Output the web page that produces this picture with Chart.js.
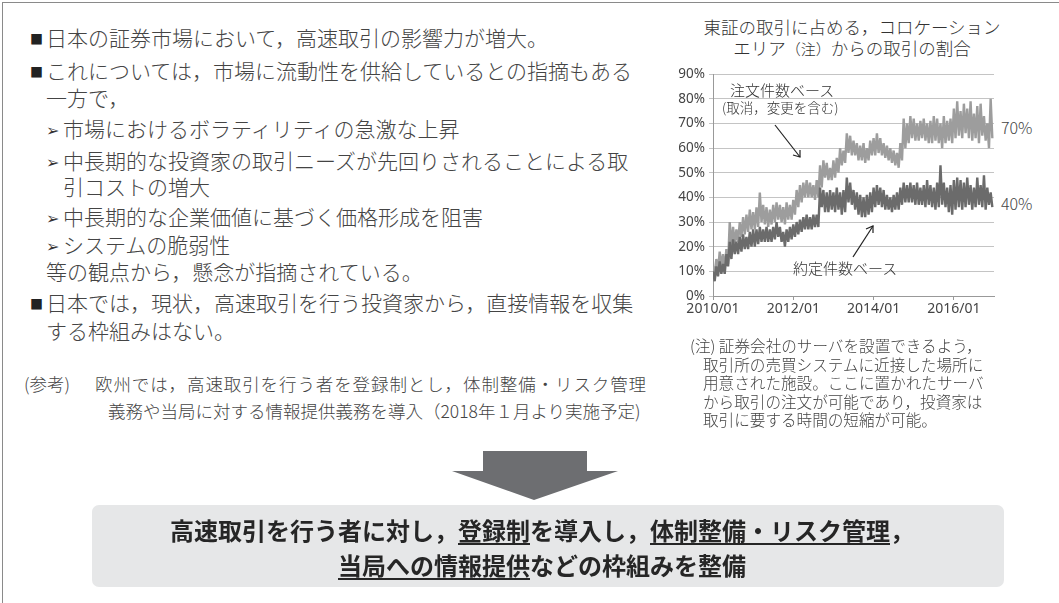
<!DOCTYPE html>
<html>
<head>
<meta charset="utf-8">
<script src="https://cdn.jsdelivr.net/npm/chart.js@4"></script>
<style>
  html, body { margin: 0; padding: 0; background: #fff; }
  body { width: 1059px; height: 603px; position: relative; overflow: hidden;
         font-family: "Noto Sans CJK JP", "Noto Sans", sans-serif; color: #444; font-weight: 300; }
  .frame { position: absolute; left: 2px; top: 2px; width: 1080px; height: 640px;
           border-left: 1.5px solid #8a8a8a; border-top: 1.5px solid #8a8a8a; }
  .t { position: absolute; white-space: nowrap; font-size: 21px; line-height: 24px; }
  .s { font-size: 17.5px; line-height: 20px; }
  .note { font-size: 15.6px; line-height: 18px; }
  .sq { display: inline-block; width: 16px; font-size: 13px; color: #222; vertical-align: 2px; }
  .ar { display: inline-block; width: 17px; font-size: 16px; font-family: "DejaVu Sans", sans-serif; vertical-align: 1px; color: #333; }
  .title { position: absolute; left: 702px; width: 300px; text-align: center; font-size: 17.5px; line-height: 20px; color: #333; white-space: nowrap; }
  .ann { position: absolute; white-space: nowrap; color: #333; line-height: 16px; }
  #wrap { position: absolute; left: 660px; top: 62px; width: 340px; height: 260px; }
  .arrow { position: absolute; left: 450px; top: 450px; }
  .box { position: absolute; left: 92px; top: 505px; width: 912px; height: 82px; background: #e6e7e8; border-radius: 7px; }
  .btxt { position: absolute; left: 86px; width: 912px; text-align: center; font-size: 24px; line-height: 28px; font-weight: bold; color: #262626; white-space: nowrap; }
  u { text-underline-offset: 3px; text-decoration-thickness: 1.5px; }
</style>
</head>
<body>
<div class="frame"></div>

<div class="t" style="left:30px;top:25px"><span class="sq">■</span>日本の証券市場において，高速取引の影響力が増大。</div>
<div class="t" style="left:30px;top:58px"><span class="sq">■</span>これについては，市場に流動性を供給しているとの指摘もある</div>
<div class="t" style="left:46px;top:85px">一方で，</div>
<div class="t" style="left:46px;top:116px"><span class="ar">➢</span>市場におけるボラティリティの急激な上昇</div>
<div class="t" style="left:46px;top:148px"><span class="ar">➢</span>中長期的な投資家の取引ニーズが先回りされることによる取</div>
<div class="t" style="left:63px;top:174px">引コストの増大</div>
<div class="t" style="left:46px;top:204px"><span class="ar">➢</span>中長期的な企業価値に基づく価格形成を阻害</div>
<div class="t" style="left:46px;top:232px"><span class="ar">➢</span>システムの脆弱性</div>
<div class="t" style="left:46px;top:259px">等の観点から，懸念が指摘されている。</div>
<div class="t" style="left:30px;top:290px"><span class="sq">■</span>日本では，現状，高速取引を行う投資家から，直接情報を収集</div>
<div class="t" style="left:46px;top:318px">する枠組みはない。</div>
<div class="t s" style="left:24px;top:374px">(参考)</div>
<div class="t s" style="left:95px;top:374px;letter-spacing:0.9px">欧州では，高速取引を行う者を登録制とし，体制整備・リスク管理</div>
<div class="t s" style="left:108px;top:401px">義務や当局に対する情報提供義務を導入（2018年１月より実施予定)</div>

<div class="title" style="top:17px">東証の取引に占める，コロケーション</div>
<div class="title" style="top:38px">エリア<span style="font-size:15px">（注）</span>からの取引の割合</div>

<div id="wrap"><canvas id="c"></canvas></div>

<div class="ann" style="left:730px;top:82px;font-size:15px">注文件数ベース</div>
<div class="ann" style="left:722px;top:99px;font-size:13.5px">(取消，変更を含む)</div>
<div class="ann" style="left:793px;top:260px;font-size:15px">約定件数ベース</div>
<div class="ann" style="left:1001px;top:119px;font-size:16px;color:#444">70%</div>
<div class="ann" style="left:1001px;top:195px;font-size:16px;color:#444">40%</div>
<svg style="position:absolute;left:0;top:0" width="1059" height="603">
  <g stroke="#222" stroke-width="1.2" fill="none">
    <line x1="775" y1="125" x2="800" y2="157"/>
    <polyline points="793,155 800,157 800,150"/>
    <line x1="853" y1="257" x2="873" y2="226"/>
    <polyline points="866,229 873,226 873,233"/>
  </g>
</svg>

<div class="t note" style="left:690px;top:336px">(注) 証券会社のサーバを設置できるよう，</div>
<div class="t note" style="left:703px;top:354.5px">取引所の売買システムに近接した場所に</div>
<div class="t note" style="left:703px;top:373px">用意された施設。ここに置かれたサーバ</div>
<div class="t note" style="left:703px;top:391.5px">から取引の注文が可能であり，投資家は</div>
<div class="t note" style="left:703px;top:410px">取引に要する時間の短縮が可能。</div>

<svg class="arrow" width="170" height="52">
  <polygon points="33,1 137,1 137,21 168,21 84,50 2,21 33,21" fill="#6d6e71"/>
</svg>
<div class="box"></div>
<div class="btxt" style="top:516px">高速取引を行う者に対し，<u>登録制</u>を導入し，<u>体制整備・リスク管理</u>，</div>
<div class="btxt" style="top:551px"><u>当局への情報提供</u>などの枠組みを整備</div>

<script>
// months since 2010/01, one high/low pair per month (2010/01 .. 2016/12)
const tickMonths = [0, 24, 48, 72];
const tickLabels = ['2010/01', '2012/01', '2014/01', '2016/01'];
const yTicks = [0, 10, 20, 30, 40, 50, 60, 70, 80, 90];

// 注文件数ベース (light)
const orderHigh = [12,15,18,17,19,30,28,27,30,32,33,35,34,36,42,37,36,35,37,38,37,36,38,37,
  39,43,45,46,47,46,45,47,53,55,54,52,55,56,60,59,66,65,63,62,61,62,60,63,
  64,66,64,62,61,60,59,58,62,72,70,73,72,70,71,72,70,71,73,72,70,73,71,72,
  76,79,75,78,76,79,74,77,78,73,70,80];
const orderLow = [9,10,12,11,13,20,21,22,24,25,26,27,27,28,30,29,28,29,30,31,30,29,31,31,
  33,36,38,40,40,40,39,40,44,48,47,47,48,50,53,54,58,57,57,55,55,54,55,57,
  57,58,57,56,55,54,53,52,55,60,62,64,63,63,64,63,62,62,63,62,60,62,63,62,
  64,65,64,66,64,63,64,62,65,63,60,64];

// 約定件数ベース (dark)
const execHigh = [10,12,14,13,17,22,23,22,24,25,24,26,27,27,28,27,28,27,28,30,28,26,27,28,
  29,30,31,32,33,32,33,33,44,43,42,43,42,44,42,43,48,46,43,42,41,40,41,42,
  44,45,44,43,41,40,41,42,44,46,45,46,45,46,44,45,47,45,44,46,53,46,44,45,
  47,48,47,46,48,45,44,48,45,49,44,42];
const execLow = [6,8,9,9,12,15,17,17,18,19,19,20,20,21,22,22,22,22,23,24,22,20,22,23,
  24,25,26,27,27,27,28,28,36,34,34,35,34,35,33,34,38,37,35,33,32,32,33,34,
  36,37,36,35,35,34,35,35,37,38,38,38,37,37,37,36,37,36,35,36,37,36,34,33,
  35,36,35,36,37,35,36,37,36,35,37,36];

const band = (hi, lo) => {
  const pts = [];
  hi.forEach((h, m) => {
    pts.push({ x: m, y: h });
    pts.push({ x: m + 0.5, y: lo[m] });
  });
  return pts;
};

new Chart(document.getElementById('c'), {
  type: 'line',
  data: {
    datasets: [
      { label: '約定件数ベース', data: band(execHigh, execLow), borderColor: '#6b6b6b', borderWidth: 2.4 },
      { label: '注文件数ベース', data: band(orderHigh, orderLow), borderColor: '#9d9d9d', borderWidth: 2.4 }
    ]
  },
  options: {
    responsive: true,
    maintainAspectRatio: false,
    animation: false,
    parsing: false,
    elements: { point: { radius: 0 }, line: { tension: 0, borderJoinStyle: 'bevel' } },
    layout: { padding: { top: 11, right: 6, left: 0, bottom: 0 } },
    plugins: { legend: { display: false }, tooltip: { enabled: false } },
    scales: {
      x: {
        type: 'linear', min: 0, max: 84,
        afterBuildTicks: s => { s.ticks = tickMonths.map(v => ({ value: v })); },
        afterFit: s => { s.height = 26; },
        ticks: {
          callback: v => tickLabels[tickMonths.indexOf(v)],
          color: '#444', font: { size: 14, family: 'Noto Sans' }, maxRotation: 0, padding: 1
        },
        grid: { drawOnChartArea: false, drawTicks: true, tickLength: 4, color: '#999' },
        border: { color: '#999' }
      },
      y: {
        min: 0, max: 90,
        afterBuildTicks: s => { s.ticks = yTicks.map(v => ({ value: v })); },
        afterFit: s => { s.width = 53; },
        ticks: {
          callback: v => v + '%',
          color: '#444', font: { size: 13.5, family: 'Noto Sans' }, padding: 4
        },
        grid: { color: '#c4c4c4', tickLength: 4 },
        border: { color: '#999' }
      }
    }
  }
});
</script>
</body>
</html>
